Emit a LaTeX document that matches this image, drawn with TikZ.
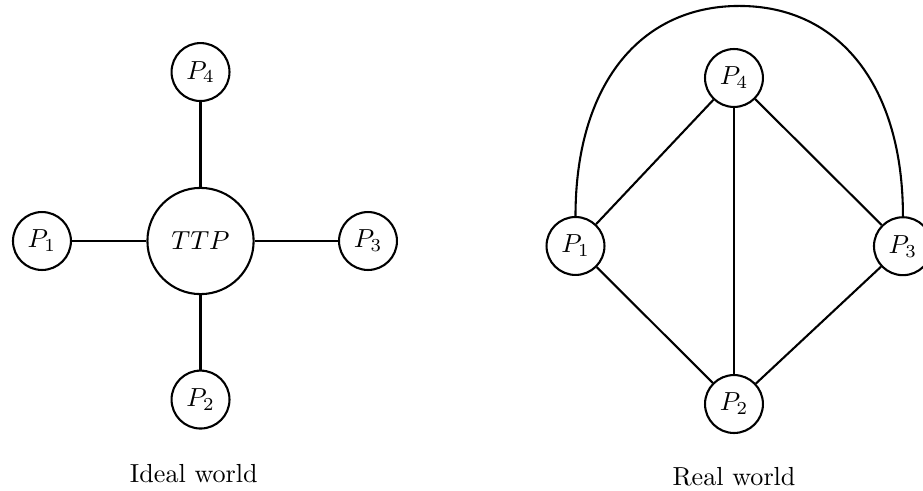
\documentclass[tikz,border=0pt]{standalone}
\usepackage{tikz}
\usetikzlibrary{positioning}
\tikzset{
    mynode/.style = {circle, draw=black, align=center, minimum size=0.78cm, inner sep=0pt},
    bignode/.style = {circle, draw=black, align=center, minimum size=1.43cm, inner sep=0pt},
}

\begin{document}
\begin{tikzpicture}[
	thick
]
\tikzset{
    edgen/.style = {-}
}
\useasboundingbox (0,0) rectangle (12.428,-6.611);
% ideal world
\node[bignode] at (2.70,-3.245) (ttp) {$TTP$};
\node[mynode] at (0.565,-3.245) (a1) {$P_1$};
\node[mynode] at (2.70,-5.38) (a2) {$P_2$};
\node[mynode] at (4.955,-3.245) (a3) {$P_3$};
\node[mynode] at (2.70,-0.97) (a4) {$P_4$};
\node at (2.61,-6.37) (ideal) {Ideal world};
%
\draw[edgen] (a1) edge (ttp);
\draw[edgen] (a2) edge (ttp);
\draw[edgen] (a3) edge (ttp);
\draw[edgen] (a4) edge (ttp);
% real world
\node[mynode] at (7.749,-3.312) (b1) {$P_1$};
\node[mynode] at (9.883,-5.44) (b2) {$P_2$};
\node[mynode] at (12.158,-3.315) (b3) {$P_3$};
\node[mynode] at (9.883,-1.05) (b4) {$P_4$};
\node at (9.883,-6.42) (real) {Real world};
\coordinate (top) at (9.955,-0.08);
%
\draw[edgen] (b1) edge (b4);
\draw[edgen] (b4) edge (b3);
\draw[edgen] (b1) edge (b2);
\draw[edgen] (b2) edge (b3);
\draw[edgen] (b4) edge (b2);
\draw[edgen] (b1.north) .. controls +(0,1.75) and +(-1.35,0) .. (top)
    .. controls +(1.35,0) and +(0,1.75) .. (b3.north);
\end{tikzpicture}
\end{document}
